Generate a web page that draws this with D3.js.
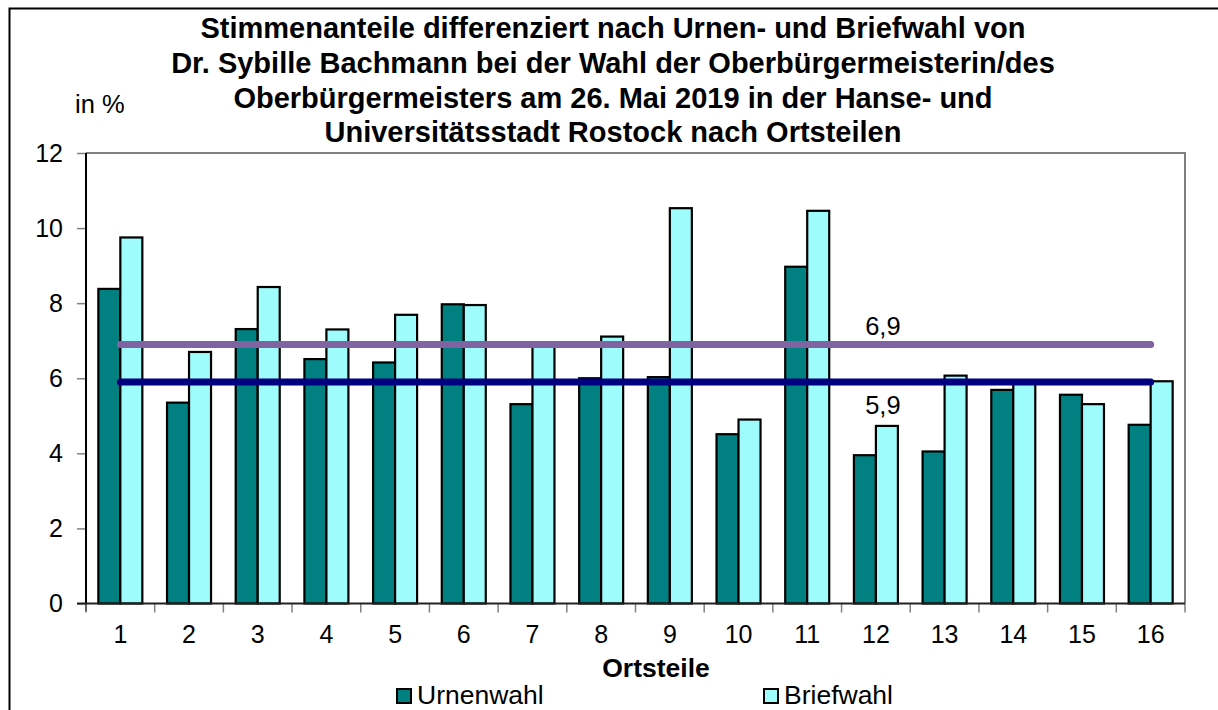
<!DOCTYPE html>
<html>
<head>
<meta charset="utf-8">
<script src="https://cdn.jsdelivr.net/npm/d3@7"></script>
<style>
  html, body { margin: 0; padding: 0; background: #fff; }
  svg { display: block; font-family: Arial, "Liberation Sans", sans-serif; }
</style>
</head>
<body>
<div id="chart"></div>
<script>
// Ortsteile 1..16
const categories = ["1", "2", "3", "4", "5", "6", "7", "8", "9", "10", "11", "12", "13", "14", "15", "16"];
const urnenwahl = [8.38, 5.35, 7.31, 6.51, 6.42, 7.97, 5.31, 6.00, 6.03, 4.51, 8.97, 3.95, 4.05, 5.69, 5.56, 4.76];
const briefwahl = [9.75, 6.70, 8.43, 7.30, 7.69, 7.95, 6.86, 7.11, 10.53, 4.90, 10.46, 4.73, 6.07, 5.95, 5.31, 5.92];
const yTicks = [0, 2, 4, 6, 8, 10, 12];

// Durchschnittslinien
const refValues = [6.9, 5.9];
const refLabels = ["6,9", "5,9"];

const titleLines = [
    "Stimmenanteile differenziert nach Urnen- und Briefwahl von",
    "Dr. Sybille Bachmann bei der Wahl der Oberbürgermeisterin/des",
    "Oberbürgermeisters am 26. Mai 2019 in der Hanse- und",
    "Universitätsstadt Rostock nach Ortsteilen"
];

const width = 1218, height = 710;
const colors = {
    urne: "#008080",
    brief: "#9ffcfc",
    refs: ["#8064a2", "#000080"],
    frame: "#808080"
};

const svg = d3.select("#chart").append("svg")
    .attr("width", width)
    .attr("height", height);

// outer chart border (runs off the picture on the right and bottom)
svg.append("rect")
    .attr("x", 9.5).attr("y", 8.5)
    .attr("width", 1240).attr("height", 740)
    .attr("fill", "#fff")
    .attr("stroke", "#000")
    .attr("stroke-width", 2);

const plot = { left: 86, right: 1185, top: 153, bottom: 603.5 };

const x = d3.scaleBand()
    .domain(categories)
    .range([plot.left, plot.right])
    .padding(0);

const y = d3.scaleLinear()
    .domain([0, 12])
    .range([plot.bottom, plot.top]);

const barW = 22;

// plot frame: top and right in grey
svg.append("path")
    .attr("d", `M${plot.left},${plot.top}H${plot.right}V${plot.bottom}`)
    .attr("fill", "none")
    .attr("stroke", colors.frame)
    .attr("stroke-width", 2);

// bars
const groups = svg.append("g").selectAll("g")
    .data(categories)
    .enter().append("g")
    .attr("transform", d => `translate(${x(d) + x.bandwidth() / 2},0)`);

groups.append("rect")
    .attr("x", -barW)
    .attr("y", (d, i) => y(urnenwahl[i]))
    .attr("width", barW)
    .attr("height", (d, i) => y(0) - y(urnenwahl[i]))
    .attr("fill", colors.urne)
    .attr("stroke", "#000")
    .attr("stroke-width", 2.2);

groups.append("rect")
    .attr("x", 0)
    .attr("y", (d, i) => y(briefwahl[i]))
    .attr("width", barW)
    .attr("height", (d, i) => y(0) - y(briefwahl[i]))
    .attr("fill", colors.brief)
    .attr("stroke", "#000")
    .attr("stroke-width", 2.2);

// y axis
const yAxis = svg.append("g")
    .attr("transform", `translate(${plot.left},0)`)
    .call(d3.axisLeft(y).tickValues(yTicks).tickSize(9).tickPadding(14).tickFormat(d3.format("d")));
yAxis.select(".domain").remove();
yAxis.selectAll(".tick line").attr("stroke", colors.frame).attr("stroke-width", 1.5);
yAxis.selectAll(".tick text")
    .attr("font-size", 25)
    .attr("font-family", "Arial, 'Liberation Sans', sans-serif")
    .attr("fill", "#000");
svg.append("line")
    .attr("x1", plot.left).attr("x2", plot.left)
    .attr("y1", plot.top).attr("y2", plot.bottom + 8)
    .attr("stroke", "#000").attr("stroke-width", 2);

// x axis
const xAxis = svg.append("g")
    .attr("transform", `translate(0,${plot.bottom})`)
    .call(d3.axisBottom(x).tickSize(0).tickPadding(22));
xAxis.select(".domain").remove();
xAxis.selectAll(".tick text")
    .attr("font-size", 25)
    .attr("font-family", "Arial, 'Liberation Sans', sans-serif")
    .attr("fill", "#000");

// tick marks between categories
const boundaries = categories.map(d => x(d)).concat([plot.right]);
svg.append("g").selectAll("line")
    .data(boundaries)
    .enter().append("line")
    .attr("x1", d => d).attr("x2", d => d)
    .attr("y1", plot.bottom).attr("y2", plot.bottom + 9)
    .attr("stroke", colors.frame).attr("stroke-width", 1.5);

svg.append("line")
    .attr("x1", plot.left - 9).attr("x2", plot.right)
    .attr("y1", plot.bottom).attr("y2", plot.bottom)
    .attr("stroke", "#222").attr("stroke-width", 2);

// reference lines
const first = categories[0], last = categories[categories.length - 1];
svg.append("g").selectAll("line")
    .data(refValues)
    .enter().append("line")
    .attr("x1", x(first) + x.bandwidth() / 2)
    .attr("x2", x(last) + x.bandwidth() / 2)
    .attr("y1", d => y(d)).attr("y2", d => y(d))
    .attr("stroke", (d, i) => colors.refs[i])
    .attr("stroke-width", 7)
    .attr("stroke-linecap", "round");

const labelCat = "12";
svg.append("g").selectAll("text")
    .data(refValues)
    .enter().append("text")
    .attr("x", x(labelCat) + x.bandwidth() / 2 + 7)
    .attr("y", (d, i) => i === 0 ? y(d) - 9 : y(d) + 32)
    .attr("text-anchor", "middle")
    .attr("font-size", 25.5)
    .text((d, i) => refLabels[i]);

// title
svg.append("text")
    .attr("text-anchor", "middle")
    .attr("font-size", 29)
    .attr("font-weight", "bold")
    .selectAll("tspan")
    .data(titleLines)
    .enter().append("tspan")
    .attr("x", 613)
    .attr("y", (d, i) => 38 + i * 34.8)
    .text(d => d);

svg.append("text")
    .attr("x", 75).attr("y", 113)
    .attr("font-size", 25.5)
    .text("in %");

svg.append("text")
    .attr("x", 656).attr("y", 677)
    .attr("text-anchor", "middle")
    .attr("font-size", 26.5)
    .attr("font-weight", "bold")
    .text("Ortsteile");

// legend
const legendItems = [
    { label: "Urnenwahl", color: colors.urne, x: 397 },
    { label: "Briefwahl", color: colors.brief, x: 764 }
];
const legend = svg.append("g").selectAll("g")
    .data(legendItems)
    .enter().append("g")
    .attr("transform", d => `translate(${d.x},689)`);
legend.append("rect")
    .attr("width", 14).attr("height", 14)
    .attr("fill", d => d.color)
    .attr("stroke", "#000").attr("stroke-width", 2);
legend.append("text")
    .attr("x", 20).attr("y", 15)
    .attr("font-size", 26.5)
    .text(d => d.label);
</script>
</body>
</html>
